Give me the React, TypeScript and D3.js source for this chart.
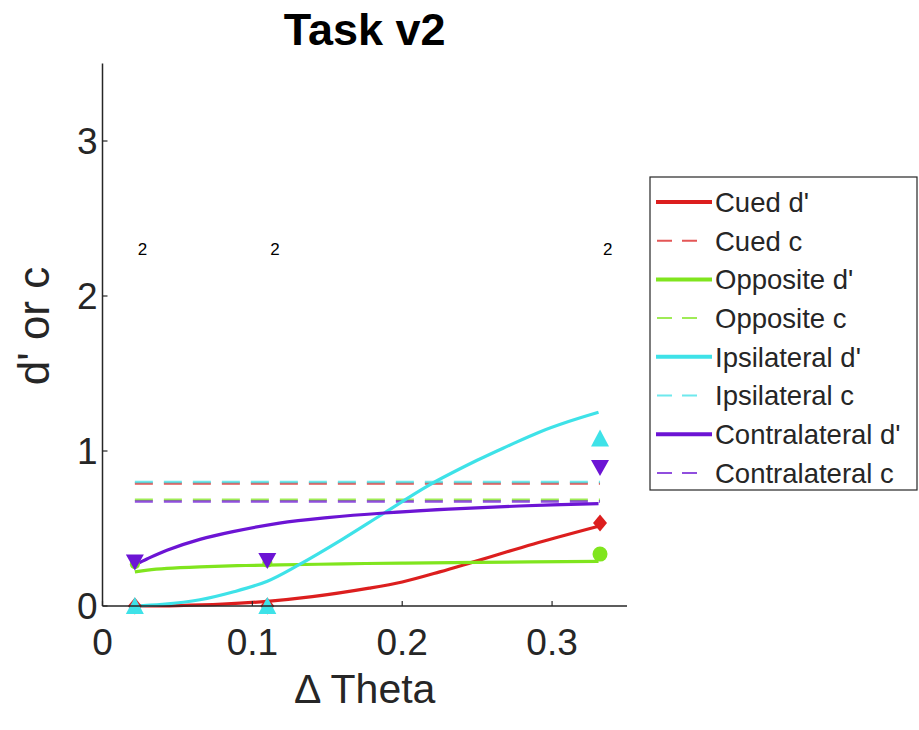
import React from "react";
import * as d3 from "d3";

// ---- data ----
const deltaTheta = [0.0216, 0.11, 0.332];
const cuedDp = [0, 0, 0.535];
const oppositeDp = [0.27, 0.28, 0.335];
const ipsiDp = [0, 0, 1.08];
const contraDp = [0.28, 0.29, 0.89];
const nLabels = ["2", "2", "2"];
const nLabelY = 2.3;

const cuedC = 0.79;
const oppositeC = 0.685;
const ipsiC = 0.8;
const contraC = 0.675;

// fitted curves
const cuedFitX = [0.0216, 0.05, 0.08, 0.11, 0.14, 0.178, 0.2, 0.225, 0.246, 0.27, 0.291, 0.331];
const cuedFitY = [0, 0.003, 0.012, 0.03, 0.06, 0.115, 0.155, 0.22, 0.28, 0.35, 0.41, 0.515];
const oppFitX = [0.0216, 0.03, 0.043, 0.065, 0.09, 0.118, 0.16, 0.2, 0.25, 0.331];
const oppFitY = [0.22, 0.232, 0.243, 0.253, 0.26, 0.265, 0.272, 0.277, 0.282, 0.288];
const ipsiFitX = [0.0216, 0.04, 0.065, 0.087, 0.11, 0.13, 0.16, 0.188, 0.218, 0.25, 0.27, 0.291, 0.311, 0.331];
const ipsiFitY = [0, 0.01, 0.04, 0.09, 0.16, 0.26, 0.43, 0.6, 0.78, 0.94, 1.03, 1.12, 1.19, 1.25];
const contraFitX = [0.0216, 0.03, 0.043, 0.065, 0.087, 0.118, 0.15, 0.188, 0.231, 0.278, 0.331];
const contraFitY = [0.265, 0.305, 0.36, 0.43, 0.48, 0.535, 0.57, 0.6, 0.625, 0.645, 0.66];

const xTicks = [0, 0.1, 0.2, 0.3];
const yTicks = [0, 1, 2, 3];
const legendLabels = [
  "Cued d'", "Cued c", "Opposite d'", "Opposite c",
  "Ipsilateral d'", "Ipsilateral c", "Contralateral d'", "Contralateral c",
];

const RED = "#dc1e1e";
const GREEN = "#80e51e";
const CYAN = "#3ee2e8";
const PURPLE = "#6c14d4";
const colors = [RED, GREEN, CYAN, PURPLE];

const FONT = "'Liberation Sans', Arial, Helvetica, sans-serif";
const AX = "#262626";

export default function App() {
  const W = 919, H = 730;
  const left = 102.5, right = 627, top = 63.5, bottom = 606;
  const x = d3.scaleLinear().domain([0, 0.35]).range([left, right]);
  const y = d3.scaleLinear().domain([0, 3.5]).range([bottom, top]);

  const line = d3.line<[number, number]>()
    .x((d) => x(d[0]))
    .y((d) => y(d[1]))
    .curve(d3.curveCatmullRom.alpha(0.5));

  const fits = [
    { xs: cuedFitX, ys: cuedFitY, c: RED },
    { xs: oppFitX, ys: oppFitY, c: GREEN },
    { xs: ipsiFitX, ys: ipsiFitY, c: CYAN },
    { xs: contraFitX, ys: contraFitY, c: PURPLE },
  ];
  const cs = [
    { v: cuedC, c: RED },
    { v: oppositeC, c: GREEN },
    { v: ipsiC, c: CYAN },
    { v: contraC, c: PURPLE },
  ];

  const x0 = deltaTheta[0];
  const x1 = deltaTheta[deltaTheta.length - 1];

  const diamond = (cx: number, cy: number) =>
    `M${cx},${cy - 8.5}L${cx + 7},${cy}L${cx},${cy + 8.5}L${cx - 7},${cy}Z`;
  const triUp = (cx: number, cy: number) =>
    `M${cx},${cy - 9}L${cx + 9},${cy + 8}L${cx - 9},${cy + 8}Z`;
  const triDown = (cx: number, cy: number) =>
    `M${cx},${cy + 8}L${cx + 9},${cy - 8}L${cx - 9},${cy - 8}Z`;

  const legX = 650, legY = 177, legW = 267, legH = 313;
  const rowY0 = 202, rowDy = 38.7;

  return (
    <svg width={W} height={H} style={{ position: "absolute", left: 0, top: 0, background: "#fff" }} fontFamily={FONT}>
      {/* title */}
      <text x={x(0.175)} y={45} textAnchor="middle" fontSize={45} fontWeight="bold" fill="#000">Task v2</text>

      {/* dashed c lines */}
      {cs.map((s, i) => (
        <line key={"c" + i} x1={x(x0)} x2={x(x1)} y1={y(s.v)} y2={y(s.v)}
          stroke={s.c} strokeWidth={2.5} strokeDasharray="18 11" opacity={0.75} />
      ))}

      {/* fitted d' curves */}
      {fits.map((f, i) => (
        <path key={"f" + i} d={line(f.xs.map((v, k) => [v, f.ys[k]] as [number, number])) || ""}
          fill="none" stroke={f.c} strokeWidth={3.2} />
      ))}

      {/* markers */}
      {deltaTheta.map((t, i) => (
        <path key={"r" + i} d={diamond(x(t), y(cuedDp[i]))} fill={RED} />
      ))}
      {deltaTheta.map((t, i) => (
        <circle key={"g" + i} cx={x(t)} cy={y(oppositeDp[i])} r={i === 2 ? 7.5 : 5} fill={GREEN} />
      ))}
      {deltaTheta.map((t, i) => (
        <path key={"cy" + i} d={triUp(x(t), y(ipsiDp[i]))} fill={CYAN} />
      ))}
      {deltaTheta.map((t, i) => (
        <path key={"p" + i} d={triDown(x(t), y(contraDp[i]))} fill={PURPLE} />
      ))}

      {/* n labels */}
      {deltaTheta.map((t, i) => (
        <text key={"n" + i} x={x(t) + 3} y={y(nLabelY)} dy="0.35em" fontSize={17} fill="#000">{nLabels[i]}</text>
      ))}

      {/* axes */}
      <line x1={left} x2={left} y1={top} y2={bottom} stroke={AX} strokeWidth={1.5} />
      <line x1={left} x2={right} y1={bottom} y2={bottom} stroke={AX} strokeWidth={1.5} />
      {yTicks.map((t) => (
        <g key={"yt" + t}>
          <line x1={left} x2={left + 5} y1={y(t)} y2={y(t)} stroke={AX} strokeWidth={1.2} />
          <text x={left - 5} y={y(t)} dy="0.36em" textAnchor="end" fontSize={37} fill={AX}>{d3.format("d")(t)}</text>
        </g>
      ))}
      {xTicks.map((t) => (
        <g key={"xt" + t}>
          <line x1={x(t)} x2={x(t)} y1={bottom} y2={bottom - 5} stroke={AX} strokeWidth={1.2} />
          <text x={x(t)} y={655} textAnchor="middle" fontSize={37} fill={AX}>{t === 0 ? "0" : String(t)}</text>
        </g>
      ))}
      <text x={x(0.175)} y={703} textAnchor="middle" fontSize={41} fill={AX}>Δ Theta</text>
      <text transform={`translate(49,326) rotate(-90)`} textAnchor="middle" fontSize={44} fill={AX}>d' or c</text>

      {/* legend */}
      <rect x={legX} y={legY} width={legW} height={legH} fill="#fff" stroke={AX} strokeWidth={1.2} />
      {legendLabels.map((lab, i) => {
        const ry = rowY0 + i * rowDy;
        const c = colors[Math.floor(i / 2)];
        const dashed = i % 2 === 1;
        return (
          <g key={"l" + i}>
            {dashed ? (
              <line x1={657} x2={697} y1={ry} y2={ry} stroke={c} strokeWidth={2} strokeDasharray="15 10" opacity={0.75} />
            ) : (
              <line x1={656} x2={712} y1={ry} y2={ry} stroke={c} strokeWidth={4} />
            )}
            <text x={715} y={ry} dy="0.36em" fontSize={27.5} fill={AX}>{lab}</text>
          </g>
        );
      })}
    </svg>
  );
}
